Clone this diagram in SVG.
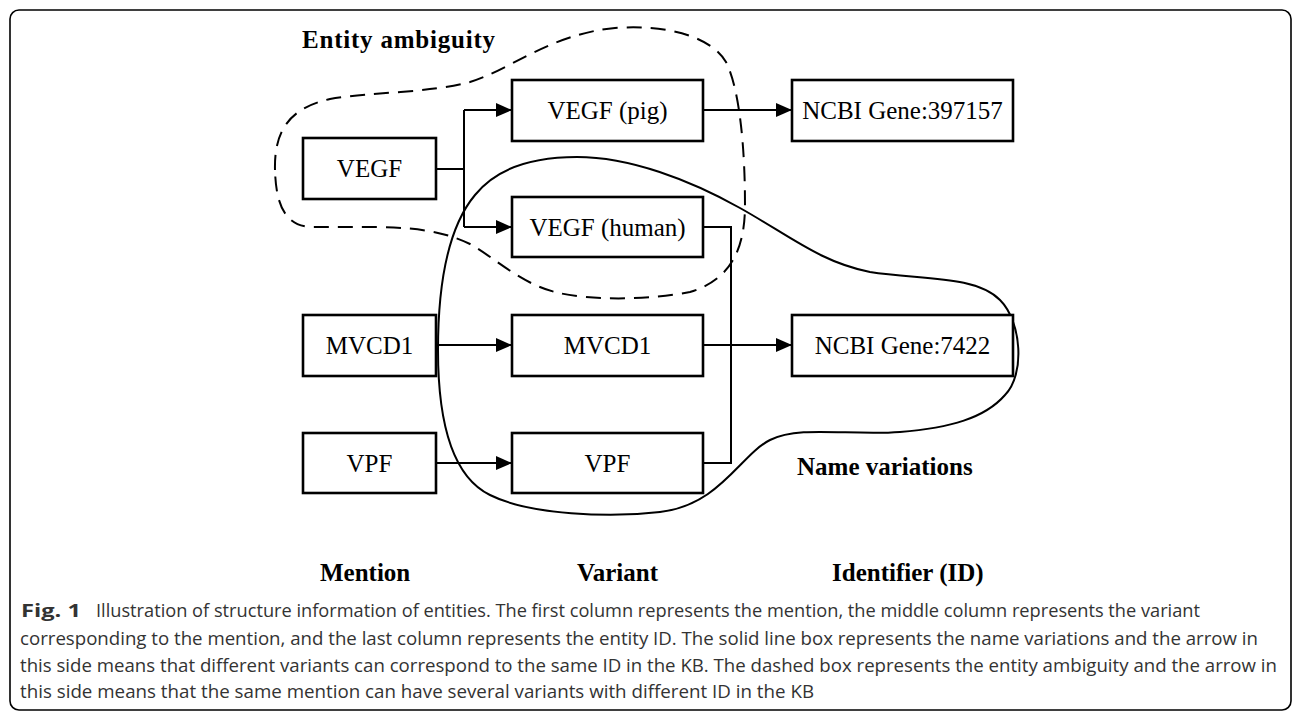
<svg xmlns="http://www.w3.org/2000/svg" width="1295" height="716" viewBox="0 0 1295 716">
<style>
.box{fill:#fff;stroke:#000;stroke-width:2.6}
.lbl{font-family:"Liberation Serif","Times New Roman",serif;font-size:25px;fill:#000;text-anchor:middle}
.hd{font-family:"Liberation Serif","Times New Roman",serif;font-size:25px;font-weight:bold;fill:#000}
.con{fill:none;stroke:#000;stroke-width:2}
.cap{font-family:"Open Sans","Liberation Sans",sans-serif;font-size:18px;fill:#333}
</style>
<defs>
<marker id="arr" viewBox="0 0 16 14" refX="16" refY="7" markerWidth="16" markerHeight="14" markerUnits="userSpaceOnUse" orient="auto">
<path d="M0,0 L16,7 L0,14 Z" fill="#000"/>
</marker>
</defs>
<rect x="10" y="10" width="1281" height="700" rx="9" fill="#fff" stroke="#000" stroke-width="1.6"/>

<g id="regions">
<path d="M 275,170 C 274,130 290,108 330,99 C 370,92 430,93 470,82 C 510,70 550,34 615,28 C 670,24 712,38 726,62 C 740,90 745,150 745,205 C 745,250 730,280 690,292 C 650,300 590,301 555,292 C 520,283 495,258 470,244 C 445,232 420,228 380,227 L 310,227 C 285,225 276,205 275,170 Z" fill="none" stroke="#000" stroke-width="2" stroke-dasharray="15,9"/>
<path d="M 438,350 C 438,280 450,225 475,195 C 495,170 530,157 577,157 C 630,157 690,180 740,208 C 790,236 820,262 870,272 C 920,280 975,275 1000,300 C 1022,322 1025,375 1005,395 C 985,418 950,428 900,432 C 850,436 800,425 770,440 C 740,455 720,505 660,512 C 610,518 530,515 490,495 C 455,478 438,430 438,350 Z" fill="none" stroke="#000" stroke-width="2"/>
</g>

<g id="connectors">
<path class="con" d="M436,169 H464 M464,110 V227"/>
<path class="con" d="M464,110 H512" marker-end="url(#arr)"/>
<path class="con" d="M464,227 H512" marker-end="url(#arr)"/>
<path class="con" d="M703,110 H792" marker-end="url(#arr)"/>
<path class="con" d="M436,345 H512" marker-end="url(#arr)"/>
<path class="con" d="M436,463 H512" marker-end="url(#arr)"/>
<path class="con" d="M703,227 H731 V463 H703"/>
<path class="con" d="M703,345 H792" marker-end="url(#arr)"/>
</g>

<g id="m-vegf"><rect class="box" x="303" y="138" width="133" height="61"/><text class="lbl" x="369.5" y="177">VEGF</text></g>
<g id="m-mvcd1"><rect class="box" x="303" y="315" width="133" height="61"/><text class="lbl" x="369.5" y="354">MVCD1</text></g>
<g id="m-vpf"><rect class="box" x="303" y="433" width="133" height="60"/><text class="lbl" x="369.5" y="472">VPF</text></g>

<g id="v-pig"><rect class="box" x="512" y="80" width="191" height="61"/><text class="lbl" x="607.5" y="119">VEGF (pig)</text></g>
<g id="v-human"><rect class="box" x="512" y="197" width="191" height="60"/><text class="lbl" x="607.5" y="236">VEGF (human)</text></g>
<g id="v-mvcd1"><rect class="box" x="512" y="315" width="191" height="61"/><text class="lbl" x="607.5" y="354">MVCD1</text></g>
<g id="v-vpf"><rect class="box" x="512" y="433" width="191" height="60"/><text class="lbl" x="607.5" y="472">VPF</text></g>

<g id="id-397157"><rect class="box" x="792" y="80" width="221" height="61"/><text class="lbl" x="902.5" y="119">NCBI Gene:397157</text></g>
<g id="id-7422"><rect class="box" x="792" y="315" width="221" height="61"/><text class="lbl" x="902.5" y="354">NCBI Gene:7422</text></g>

<g id="labels">
<text class="hd" x="302" y="48" textLength="193" lengthAdjust="spacing">Entity  ambiguity</text>
<text class="hd" x="797" y="475">Name variations</text>
<text class="hd" x="320" y="581">Mention</text>
<text class="hd" x="577" y="581">Variant</text>
<text class="hd" x="832" y="581">Identifier (ID)</text>
</g>

<g id="caption">
<text class="cap" x="21" y="617" font-weight="bold" fill="#222" textLength="60" lengthAdjust="spacingAndGlyphs">Fig. 1</text>
<text class="cap" x="96" y="617" textLength="1104" lengthAdjust="spacingAndGlyphs">Illustration of structure information of entities. The first column represents the mention, the middle column represents the variant</text>
<text class="cap" x="20" y="645" textLength="1238" lengthAdjust="spacingAndGlyphs">corresponding to the mention, and the last column represents the entity ID. The solid line box represents the name variations and the arrow in</text>
<text class="cap" x="20" y="672" textLength="1257" lengthAdjust="spacingAndGlyphs">this side means that different variants can correspond to the same ID in the KB. The dashed box represents the entity ambiguity and the arrow in</text>
<text class="cap" x="20" y="698" textLength="794" lengthAdjust="spacingAndGlyphs">this side means that the same mention can have several variants with different ID in the KB</text>
</g>
</svg>
